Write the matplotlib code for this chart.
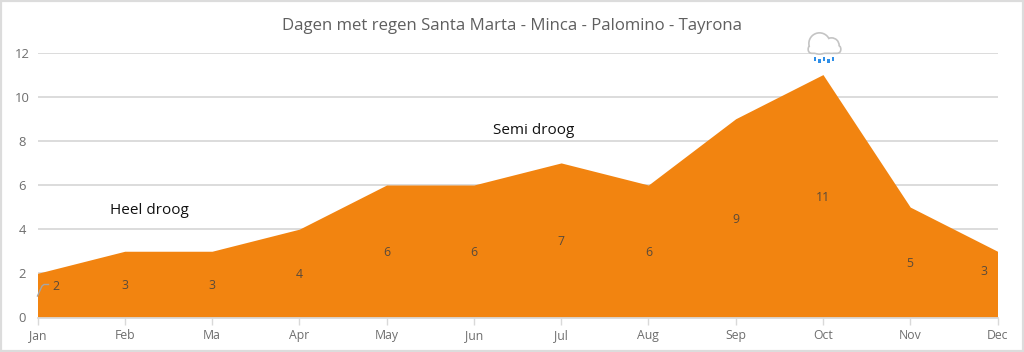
import matplotlib
matplotlib.use("Agg")
import matplotlib.pyplot as plt
from matplotlib.patches import Circle, FancyBboxPatch, Rectangle

months = ["Jan", "Feb", "Ma", "Apr", "May", "Jun", "Jul", "Aug", "Sep", "Oct", "Nov", "Dec"]
rain_days = [2, 3, 3, 4, 6, 6, 7, 6, 9, 11, 5, 3]
y_ticks = [0, 2, 4, 6, 8, 10, 12]
title = "Dagen met regen Santa Marta - Minca - Palomino - Tayrona"

W, H = 1024, 352
plt.rcParams["font.family"] = ["Open Sans", "DejaVu Sans"]
fig = plt.figure(figsize=(W / 100, H / 100), dpi=100, facecolor="white")
L, R, T, B = 37.5, 997.5, 52.5, 317.5
ax = fig.add_axes([L / W, 1 - B / H, (R - L) / W, (B - T) / H])
x = list(range(len(months)))

ax.fill_between(x, rain_days, 0, color="#F28410", lw=0, zorder=3)
ax.set_xlim(0, 11)
ax.set_ylim(0, 12)
ax.set_xticks(x, months)
ax.set_yticks(y_ticks)
ax.grid(axis="y", color="#D9D9D9", lw=1.3, zorder=1)
ax.set_axisbelow(True)
for s in ["top", "right", "left"]:
    ax.spines[s].set_visible(False)
ax.spines["bottom"].set_color("#D9D9D9")
ax.spines["bottom"].set_linewidth(1.3)
ax.spines["bottom"].set_zorder(4)
ax.tick_params(axis="x", length=5, width=1, color="#D9D9D9", labelcolor="#6E6E6E", labelsize=8.8, pad=3.5)
ax.tick_params(axis="y", length=0, labelcolor="#6E6E6E", labelsize=9.4, pad=11)
for lab in ax.get_yticklabels():
    lab.set_ha("center")
    lab.set_x(-0.0)

# data labels at half height, with the two edge labels shifted inside
for i, v in enumerate(rain_days):
    dx, dy = 0, -1.5
    if i == 0:
        dx, dy = 18.5, 9
    elif i == len(rain_days) - 1:
        dx, dy = -13.5, 12.5
    ax.annotate(str(v), (i, v / 2), xytext=(dx * 0.72, dy * 0.72), textcoords="offset points",
                ha="center", va="center", fontsize=8.8, color="#5A4A3A", zorder=6, annotation_clip=False)

ax.annotate("Heel droog", (1, 3), xytext=(149, H - 211), textcoords="figure pixels",
            ha="center", va="center", fontsize=11, color="#111111", zorder=6)
ax.annotate("Semi droog", (6, 7), xytext=(534, H - 130), textcoords="figure pixels",
            ha="center", va="center", fontsize=11, color="#111111", zorder=6)

fig.text(511.5 / W, 1 - 25.5 / H, title, ha="center", va="center", fontsize=12.05, color="#5F5F5F")

# overlay in pixel coordinates for decorations
ov = fig.add_axes([0, 0, 1, 1], facecolor="none")
ov.set_xlim(0, W)
ov.set_ylim(H, 0)
ov.axis("off")

# leader line of the first label
ov.plot([37.5, 42, 44, 48.5], [296, 286, 284.5, 284.5], color="#A5A5A5", lw=1, zorder=5)

# cloud icon
def cloud_parts():
    return [
        Circle((819.5, 43.5), 9.8),
        Circle((831.5, 45.5), 6.8),
        FancyBboxPatch((809, 46), 31, 6.5, boxstyle="round,pad=0,rounding_size=3.2"),
    ]
for p in cloud_parts():
    p.set(facecolor="#C4C4C4", edgecolor="#C4C4C4", lw=2.4, zorder=7)
    ov.add_patch(p)
for p in cloud_parts():
    p.set(facecolor="white", edgecolor="none", lw=0, zorder=8)
    ov.add_patch(p)
for dx, top in [(815, 57), (819.5, 59), (824, 57), (828.5, 59), (833, 57)]:
    ov.add_patch(Rectangle((dx - 1.1, top), 2.2, 4, facecolor="#2F8FE8", edgecolor="none", zorder=8))

# outer frame
ov.add_patch(Rectangle((1, 1), W - 2, H - 2, fill=False, edgecolor="#DCDCDC", lw=1.6, zorder=9))

fig.savefig("out.png", dpi=100, facecolor="white")
